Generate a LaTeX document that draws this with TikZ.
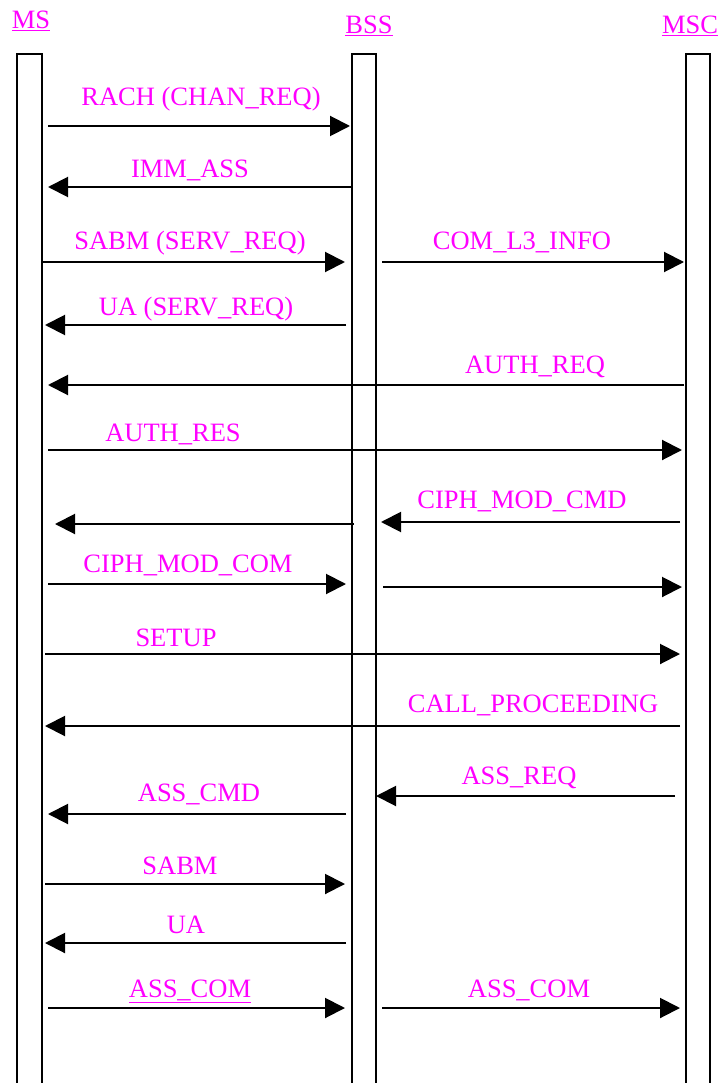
\documentclass[tikz,border=0pt]{standalone}
\usepackage{fontspec}
\setmainfont{Liberation Serif}
\usetikzlibrary{arrows.meta}
\definecolor{mag}{RGB}{255,0,255}
\begin{document}
\begin{tikzpicture}[x=1pt,y=-1pt,
  lbl/.style={text=mag, font=\fontsize{26.5}{30}\selectfont, anchor=base, inner sep=0pt},
  msg/.style={line width=2pt, -{Triangle[length=20pt,width=20pt]}},
  life/.style={line width=2pt, line join=miter}]
\useasboundingbox (0,0) rectangle (721,1083);
% headers
\node[lbl] (hms)  at (31,29)  {\underline{MS}};
\node[lbl] (hbss) at (369,34) {\underline{BSS}};
\node[lbl] (hmsc) at (690,34) {\underline{MSC}};
% lifelines
\draw[life] (17,1084) -- (17,54) -- (42,54) -- (42,1084);
\draw[life] (352,1084) -- (352,54) -- (376,54) -- (376,1084);
\draw[life] (686,1084) -- (686,54) -- (710,54) -- (710,1084);
% endpoints
\coordinate (a1s) at (48,126);   \coordinate (a1e) at (350,126);
\coordinate (a2s) at (352,187);  \coordinate (a2e) at (48,187);
\coordinate (a3s) at (42,262);   \coordinate (a3e) at (345,262);
\coordinate (b3s) at (382,262);  \coordinate (b3e) at (684,262);
\coordinate (a4s) at (346,325);  \coordinate (a4e) at (45,325);
\coordinate (a5s) at (684,385);  \coordinate (a5e) at (48,385);
\coordinate (a6s) at (48,450);   \coordinate (a6e) at (682,450);
\coordinate (b7s) at (680,522);  \coordinate (b7e) at (381,522);
\coordinate (a7s) at (354,524);  \coordinate (a7e) at (55,524);
\coordinate (a8s) at (48,584);   \coordinate (a8e) at (346,584);
\coordinate (b8s) at (383,587);  \coordinate (b8e) at (682,587);
\coordinate (a9s) at (45,654);   \coordinate (a9e) at (680,654);
\coordinate (a10s) at (680,726); \coordinate (a10e) at (45,726);
\coordinate (a11s) at (675,796); \coordinate (a11e) at (376,796);
\coordinate (a12s) at (346,814); \coordinate (a12e) at (48,814);
\coordinate (a13s) at (45,884);  \coordinate (a13e) at (345,884);
\coordinate (a14s) at (346,943); \coordinate (a14e) at (45,943);
\coordinate (a15s) at (48,1008); \coordinate (a15e) at (345,1008);
\coordinate (b15s) at (382,1008);\coordinate (b15e) at (680,1008);
% messages
\foreach \p in {a1,a2,a3,b3,a4,a5,a6,b7,a7,a8,b8,a9,a10,a11,a12,a13,a14,a15,b15}
  \draw[msg] (\p s) -- (\p e);
% labels
\node[lbl] (l1)  at (201,106) {RACH (CHAN\_REQ)};
\node[lbl] (l2)  at (190,178) {IMM\_ASS};
\node[lbl] (l3)  at (190,249) {SABM (SERV\_REQ)};
\node[lbl] (l3b) at (522,250) {COM\_L3\_INFO};
\node[lbl] (l4)  at (196,315) {UA (SERV\_REQ)};
\node[lbl] (l5)  at (535,373) {AUTH\_REQ};
\node[lbl] (l6)  at (173,441) {AUTH\_RES};
\node[lbl] (l7)  at (522,508) {CIPH\_MOD\_CMD};
\node[lbl] (l8)  at (188,572) {CIPH\_MOD\_COM};
\node[lbl] (l9)  at (176,646) {SETUP};
\node[lbl] (l10) at (533,712) {CALL\_PROCEEDING};
\node[lbl] (l11) at (519,784) {ASS\_REQ};
\node[lbl] (l12) at (199,801) {ASS\_CMD};
\node[lbl] (l13) at (180,874) {SABM};
\node[lbl] (l14) at (186,933) {UA};
\node[lbl] (l15) at (190,997) {\underline{ASS\_COM}};
\node[lbl] (l15b) at (529,997) {ASS\_COM};
\end{tikzpicture}
\end{document}
